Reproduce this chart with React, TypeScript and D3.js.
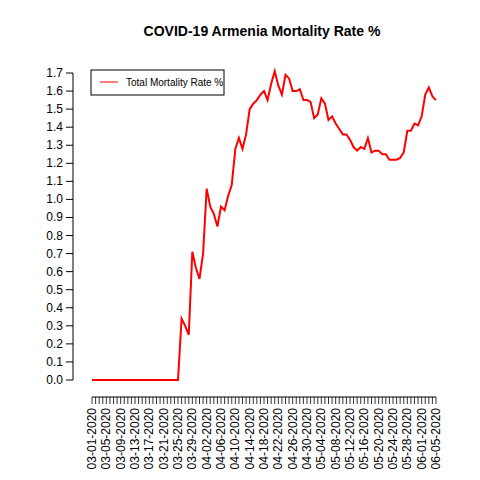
import React from 'react';
import * as d3 from 'd3';

const startDate = new Date(2020, 2, 1);
const rates: number[] = [
  0, 0, 0, 0, 0, 0, 0, 0, 0, 0, 0, 0, 0, 0, 0, 0, 0, 0, 0, 0, 0, 0, 0, 0, 0,
  0.34, 0.30, 0.25, 0.71, 0.62, 0.56, 0.70, 1.06, 0.96, 0.92, 0.85, 0.96, 0.94, 1.02, 1.08,
  1.28, 1.34, 1.28, 1.36, 1.50, 1.53, 1.55, 1.58, 1.60, 1.55, 1.64, 1.71, 1.63, 1.58, 1.69,
  1.67, 1.60, 1.60, 1.61, 1.55, 1.55, 1.54, 1.45, 1.47, 1.56, 1.53, 1.44, 1.46, 1.42, 1.39,
  1.36, 1.36, 1.33, 1.29, 1.27, 1.29, 1.28, 1.34, 1.26, 1.27, 1.27, 1.25, 1.25, 1.22, 1.22,
  1.22, 1.23, 1.26, 1.38, 1.38, 1.42, 1.41, 1.46, 1.58, 1.62, 1.57, 1.55,
];
const yTicks = d3.range(0, 1.71, 0.1);

const fmt = d3.timeFormat('%m-%d-%Y');

export default function App() {
  const dates = rates.map((_, i) => d3.timeDay.offset(startDate, i));
  const x = d3.scaleTime().domain([dates[0], dates[dates.length - 1]]).range([92, 436]);
  const y = d3.scaleLinear().domain([0, 1.7]).range([380, 73]);
  const line = d3.line<number>().x((_, i) => x(dates[i])).y(d => y(d));
  const font = 'Liberation Sans, Arial, sans-serif';
  return (
    <svg width={480} height={480} style={{ position: 'absolute', left: 0, top: 0 }} fontFamily={font}>
      <rect width={480} height={480} fill="#fff" />
      <text x={262} y={36} textAnchor="middle" fontWeight="bold" fontSize={14}>COVID-19 Armenia Mortality Rate %</text>
      {/* y axis */}
      <line x1={73} x2={73} y1={y(0)} y2={y(1.7)} stroke="#000" />
      {yTicks.map(t => (
        <g key={t}>
          <line x1={66} x2={73} y1={y(t)} y2={y(t)} stroke="#000" />
          <text x={63} y={y(t) + 4} textAnchor="end" fontSize={12}>{t.toFixed(1)}</text>
        </g>
      ))}
      {/* x axis */}
      <line x1={x(dates[0])} x2={x(dates[dates.length - 1])} y1={397} y2={397} stroke="#000" />
      {dates.map((d, i) => (
        <g key={i}>
          <line x1={x(d)} x2={x(d)} y1={397} y2={404} stroke="#000" strokeWidth={0.8} />
          {i % 4 === 0 && (
            <text transform={`translate(${x(d) + 4},408) rotate(-90)`} textAnchor="end" fontSize={12}>{fmt(d)}</text>
          )}
        </g>
      ))}
      <path d={line(rates) ?? ''} fill="none" stroke="red" strokeWidth={2} />
      {/* legend */}
      <rect x={91} y={70} width={133} height={25} fill="#fff" stroke="#000" />
      <line x1={100} x2={118} y1={82} y2={82} stroke="red" />
      <text x={126} y={86} fontSize={10}>Total Mortality Rate %</text>
    </svg>
  );
}
